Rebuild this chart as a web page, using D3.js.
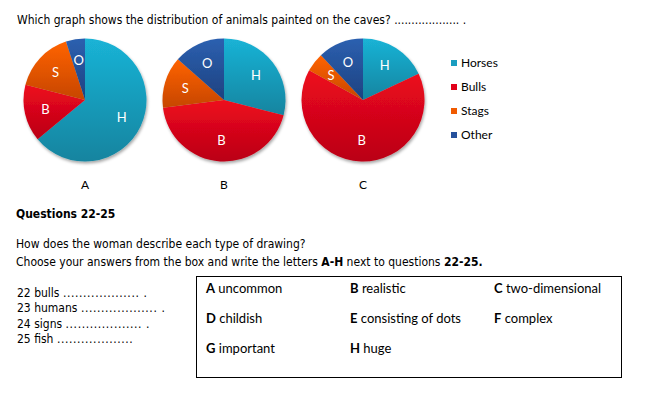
<!DOCTYPE html>
<html>
<head>
<meta charset="utf-8">
<script src="https://cdn.jsdelivr.net/npm/d3@7"></script>
<style>
  body { margin: 0; background: #fff; }
  svg { display: block; }
  .tah { font-family: "DejaVu Sans Condensed", "DejaVu Sans", sans-serif; fill: #000; }
  .cal { font-family: Lato, "Open Sans", sans-serif; fill: #000; }
</style>
</head>
<body>
<svg id="chart"></svg>
<script>
// ---- data ----
const categories = ["Horses", "Bulls", "Stags", "Other"];
const sliceLabels = ["H", "B", "S", "O"];
const pieNames = ["A", "B", "C"];
const valuesA = [64, 15, 16, 5];
const valuesB = [29, 44, 13.5, 13.5];
const valuesC = [18, 65, 5, 12];
const questionTitle = "Which graph shows the distribution of animals painted on the caves?  ................... .";
const questionItems = ["22 bulls", "23 humans", "24 signs", "25 fish"];
const itemDots = ["................... .", "................... .", "................... .", "..................."];
const optionLetters = ["A", "B", "C", "D", "E", "F", "G", "H"];
const optionWords = ["uncommon", "realistic", "two-dimensional", "childish", "consisting of dots", "complex", "important", "huge"];

const pieValues = [valuesA, valuesB, valuesC];

// colours: [top, bottom, legend]
const palette = {
  Horses: ["#1ab3d6", "#13849f", "#1a9dc0"],
  Bulls:  ["#ee0a1e", "#ba0015", "#e2001a"],
  Stags:  ["#ff6300", "#c64600", "#f05a00"],
  Other:  ["#2c60b0", "#1d4280", "#26519c"]
};

const width = 663, height = 393;
const svg = d3.select("#chart").attr("width", width).attr("height", height);

const defs = svg.append("defs");
categories.forEach((c, i) => {
  const g = defs.append("linearGradient")
    .attr("id", "grad" + i)
    .attr("x1", 0).attr("y1", 0).attr("x2", 0).attr("y2", 1);
  g.append("stop").attr("offset", "0%").attr("stop-color", palette[c][0]);
  g.append("stop").attr("offset", "100%").attr("stop-color", palette[c][1]);
});
const shadow = defs.append("filter").attr("id", "shadow")
  .attr("x", "-20%").attr("y", "-20%").attr("width", "140%").attr("height", "140%");
shadow.append("feDropShadow")
  .attr("dx", 1).attr("dy", 2).attr("stdDeviation", 1.6)
  .attr("flood-color", "#000").attr("flood-opacity", 0.35);

// title
svg.append("text").attr("class", "tah")
  .attr("x", 17).attr("y", 24)
  .attr("font-size", 12)
  .text(questionTitle);

// ---- pies ----
const radius = 61.5;
const x = d3.scalePoint().domain(pieNames).range([85, 363]);
const cy = 100;

const pie = d3.pie().sort(null).value(d => d.value);
const arc = d3.arc().innerRadius(0).outerRadius(radius);
const labelArc = d3.arc().innerRadius(radius * 0.66).outerRadius(radius * 0.66);

pieNames.forEach((name, k) => {
  const data = categories.map((c, i) => ({ cat: c, idx: i, value: pieValues[k][i] }));
  const g = svg.append("g").attr("transform", `translate(${x(name)},${cy})`);

  g.append("g").attr("filter", "url(#shadow)")
    .selectAll("path")
    .data(pie(data))
    .join("path")
    .attr("d", arc)
    .attr("fill", d => `url(#grad${d.data.idx})`);

  g.selectAll("text.lbl")
    .data(pie(data))
    .join("text")
    .attr("class", "lbl cal")
    .attr("transform", d => `translate(${labelArc.centroid(d)})`)
    .attr("text-anchor", "middle")
    .attr("dy", "0.36em")
    .attr("font-size", 13)
    .style("fill", "#fff")
    .text(d => sliceLabels[d.data.idx]);

  svg.append("text").attr("class", "cal")
    .attr("x", x(name)).attr("y", 189)
    .attr("text-anchor", "middle")
    .attr("font-size", 12)
    .text(name);
});

// legend
const legend = svg.append("g").attr("transform", "translate(451,63)");
const ly = d3.scaleBand().domain(categories).range([0, 96]);
categories.forEach(c => {
  legend.append("rect")
    .attr("x", 0).attr("y", ly(c) - 3)
    .attr("width", 6).attr("height", 6)
    .attr("fill", palette[c][2]);
  legend.append("text").attr("class", "cal")
    .attr("x", 10).attr("y", ly(c) + 4)
    .attr("font-size", 12)
    .text(c);
});

// ---- questions ----
svg.append("text").attr("class", "tah")
  .attr("x", 16).attr("y", 218)
  .attr("font-size", 12).attr("font-weight", "bold")
  .text("Questions 22-25");

svg.append("text").attr("class", "tah")
  .attr("x", 16).attr("y", 248)
  .attr("font-size", 12)
  .text("How does the woman describe each type of drawing?");

const choose = svg.append("text").attr("class", "tah")
  .attr("x", 16).attr("y", 266)
  .attr("font-size", 12);
choose.append("tspan").text("Choose your answers from the box and write the letters ");
choose.append("tspan").attr("font-weight", "bold").text("A-H");
choose.append("tspan").text(" next to questions ");
choose.append("tspan").attr("font-weight", "bold").text("22-25.");

const items = svg.selectAll("text.item")
  .data(questionItems)
  .join("text")
  .attr("class", "item tah")
  .attr("x", 17)
  .attr("y", (d, i) => 297 + i * 15.3)
  .attr("font-size", 12);
items.append("tspan").text(d => d + " ");
items.append("tspan").attr("letter-spacing", 0.6).text((d, i) => itemDots[i]);

// options box
svg.append("rect")
  .attr("x", 196.5).attr("y", 276.5)
  .attr("width", 425).attr("height", 101)
  .attr("fill", "none").attr("stroke", "#000").attr("stroke-width", 1);

const colX = d3.scalePoint().domain([0, 1, 2]).range([206, 494]);
const opt = svg.selectAll("text.opt")
  .data(optionLetters)
  .join("text")
  .attr("class", "opt cal")
  .attr("x", (d, i) => colX(i % 3))
  .attr("y", (d, i) => 293 + Math.floor(i / 3) * 30)
  .attr("font-size", 13);
opt.append("tspan").attr("font-weight", "bold").text(d => d);
opt.append("tspan").text((d, i) => " " + optionWords[i]);
</script>
</body>
</html>
